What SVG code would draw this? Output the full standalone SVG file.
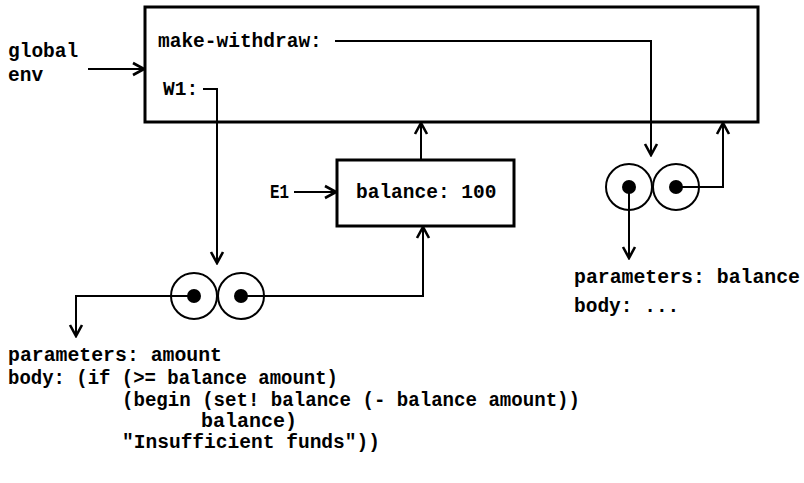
<svg xmlns="http://www.w3.org/2000/svg" width="804" height="483" viewBox="0 0 804 483">
<style>
text{font-family:"Liberation Mono","DejaVu Sans Mono",monospace;font-weight:bold;font-size:19.5px;fill:#000}
.box{fill:#fff;stroke:#000;stroke-width:3}
.conn{fill:none;stroke:#000;stroke-width:2}
.circ{fill:#fff;stroke:#000;stroke-width:2}
.dot{fill:#000}
</style>
<defs>
<marker id="arr" viewBox="-12 -8 14 16" refX="0" refY="0" markerWidth="14" markerHeight="16" markerUnits="userSpaceOnUse" orient="auto">
<path d="M-11,-6 L0,0 L-11,6" fill="none" stroke="#000" stroke-width="2.6" stroke-linejoin="miter"/>
</marker>
</defs>
<rect width="804" height="483" fill="#fff"/>

<g id="global-env">
<rect class="box" x="145" y="7" width="613" height="115"/>
<text x="158" y="47">make-withdraw:</text>
<text x="163" y="95">W1:</text>
</g>
<g id="global-label">
<text x="8" y="57">global</text>
<text x="8" y="81">env</text>
</g>

<g id="E1">
<rect class="box" x="337" y="160" width="177" height="66"/>
<text x="356" y="198">balance: 100</text>
</g>
<g id="E1-label">
<text x="270" y="198" textLength="19" lengthAdjust="spacingAndGlyphs">E1</text>
</g>

<g id="proc-W1">
<circle class="circ" cx="194" cy="296" r="23"/>
<circle class="circ" cx="241" cy="296" r="23"/>
<circle class="dot" cx="194" cy="296" r="7"/>
<circle class="dot" cx="241" cy="296" r="7"/>
</g>

<g id="proc-make-withdraw">
<circle class="circ" cx="629" cy="187" r="23"/>
<circle class="circ" cx="676" cy="187" r="23"/>
<circle class="dot" cx="629" cy="187" r="7"/>
<circle class="dot" cx="676" cy="187" r="7"/>
</g>

<g id="code-W1">
<text x="8" y="361" textLength="214" lengthAdjust="spacingAndGlyphs">parameters: amount</text>
<text x="8" y="384" textLength="330" lengthAdjust="spacingAndGlyphs">body: (if (&gt;= balance amount)</text>
<text x="122" y="406" textLength="458" lengthAdjust="spacingAndGlyphs">(begin (set! balance (- balance amount))</text>
<text x="201" y="427" textLength="96" lengthAdjust="spacingAndGlyphs">balance)</text>
<text x="122" y="448" textLength="258" lengthAdjust="spacingAndGlyphs">"Insufficient funds"))</text>
</g>

<g id="code-make-withdraw">
<text x="574" y="283" textLength="226" lengthAdjust="spacingAndGlyphs">parameters: balance</text>
<text x="574" y="312">body: ...</text>
</g>

<g id="connectors">
<path class="conn" d="M88,69 H144" marker-end="url(#arr)"/>
<path class="conn" d="M335,41 H651 V155" marker-end="url(#arr)"/>
<path class="conn" d="M203,89 H217 V263" marker-end="url(#arr)"/>
<path class="conn" d="M294,192 H336" marker-end="url(#arr)"/>
<path class="conn" d="M421,160 V123" marker-end="url(#arr)"/>
<path class="conn" d="M194,296 H76 V336" marker-end="url(#arr)"/>
<path class="conn" d="M241,296 H423 V227" marker-end="url(#arr)"/>
<path class="conn" d="M676,187 H723 V123" marker-end="url(#arr)"/>
<path class="conn" d="M629,187 V258" marker-end="url(#arr)"/>
</g>
</svg>
